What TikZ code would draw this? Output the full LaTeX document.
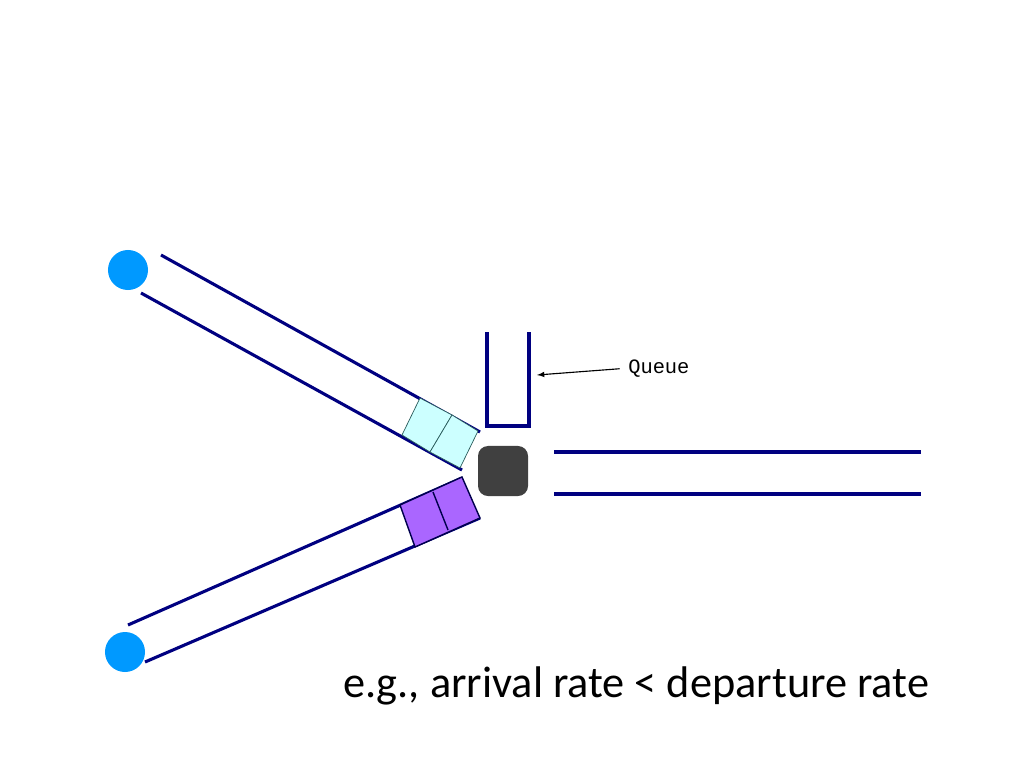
\documentclass[tikz,border=0pt]{standalone}
\usepackage{fontspec}
\setmainfont{Carlito}
\newfontfamily\queuefont{Liberation Mono}
\usepackage{tikz}
\usetikzlibrary{arrows,positioning}
\definecolor{linknavy}{RGB}{0,0,128}
\definecolor{hostblue}{RGB}{0,153,255}
\definecolor{pktcyan}{RGB}{204,255,255}
\definecolor{pktteal}{RGB}{40,90,90}
\definecolor{pktpurple}{RGB}{170,102,255}
\definecolor{routergray}{RGB}{64,64,64}
\tikzset {
	road/.style={draw=linknavy, line width=2.2pt},
	host/.style={circle, fill=hostblue, minimum size=1cm, inner sep=0},
	router/.style={rectangle, fill=routergray, rounded corners=.25cm, minimum size=1.25cm, inner sep=0},
	waiting/.style={fill=pktcyan, draw=pktteal, line width=.5pt},
	moving/.style={fill=pktpurple, draw=linknavy!60!black, line width=1pt},
	pointer/.style={-latex, line width=.8pt}
}
\begin{document}
\begin{tikzpicture}[x=0.025cm, y=-0.025cm]
					\useasboundingbox (0,0) rectangle (1024,768);
					% hosts and router
					\node [host] (hostA) at (128,270) {};
					\node [host] (hostB) at (125,652) {};
					\node [router] (rtr) at (503,471) {};
					% links
					\draw [road] (161,255) -- (480,432);
					\draw [road] (141,293) -- (462,470);
					\draw [road] (128,625) -- (462,478);
					\draw [road] (145,662) -- (480,518);
					\foreach \y in {452,494}
						\draw [road] (554,\y) -- (921,\y);
					\draw [road] (487,332) -- (487,426) -- (529,426) -- (529,332);
					% packets
					\draw [waiting] (420,398) -- (452,415) -- (430,452) -- (402,435) -- cycle;
					\draw [waiting] (452,415) -- (478,431) -- (460,468) -- (430,452) -- cycle;
					\draw [moving] (400,505) -- (462,477) -- (480,518) -- (415,547) -- cycle;
					\draw [moving] (433,492) -- (448,530);
					% labels
					\coordinate (qtip) at (537,375);
					\node [anchor=base west, inner sep=0, font=\queuefont\fontsize{14.5}{17}\selectfont] (qlabel) at (628,373) {Queue};
					\draw [pointer, shorten <=6pt] (qlabel.west) -- (qtip);
					\node [anchor=base west, inner sep=0, font=\fontsize{31.5}{38}\selectfont] (note) at (343,697) {e.g., arrival rate < departure rate};
\end{tikzpicture}
\end{document}
